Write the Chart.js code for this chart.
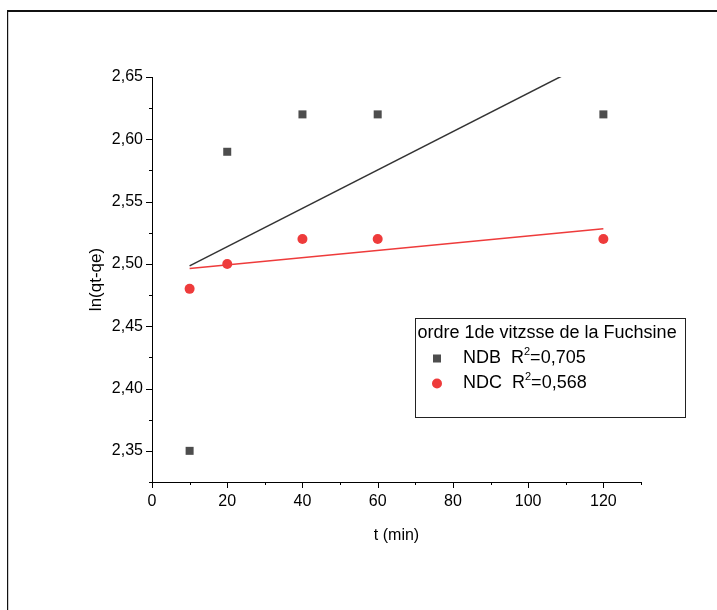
<!DOCTYPE html>
<html>
<head>
<meta charset="utf-8">
<script src="https://cdn.jsdelivr.net/npm/chart.js@4.4.1/dist/chart.umd.min.js"></script>
<style>
  html, body { margin: 0; padding: 0; background: #fff; }
  canvas { display: block; }
</style>
</head>
<body>
<canvas id="chart" width="717" height="610"></canvas>
<script>
// Kinetic data: contact time (min) and ln(qt-qe) for each adsorbent
const times = [10, 20, 40, 60, 120];
const ndbValues = [2.35, 2.59, 2.62, 2.62, 2.62];
const ndcValues = [2.48, 2.50, 2.52, 2.52, 2.52];
const seriesNames = ['NDB', 'NDC'];
const r2Values = ['0,705', '0,568'];
const legendTitle = 'ordre 1de vitzsse de la Fuchsine';
const xTitle = 't (min)';
const yTitle = 'ln(qt-qe)';
const xLimits = [0, 130];
const yLimits = [2.325, 2.65];

const FONT = "'Liberation Sans', Arial, sans-serif";
const COLOR_NDB = '#4d4d4d';
const COLOR_NDC = '#ee3b3b';

// Least-squares straight line through a series
function linearFit(xs, ys) {
  const n = xs.length;
  const mx = xs.reduce((a, b) => a + b, 0) / n;
  const my = ys.reduce((a, b) => a + b, 0) / n;
  let sxy = 0, sxx = 0;
  for (let i = 0; i < n; i++) {
    sxy += (xs[i] - mx) * (ys[i] - my);
    sxx += (xs[i] - mx) * (xs[i] - mx);
  }
  const slope = sxy / sxx;
  const icpt = my - slope * mx;
  const x0 = xs[0], x1 = xs[n - 1];
  return [{ x: x0, y: icpt + slope * x0 }, { x: x1, y: icpt + slope * x1 }];
}

const toPoints = (xs, ys) => xs.map((x, i) => ({ x: x, y: ys[i] }));
const commaNum = (v, d) => v.toFixed(d).replace('.', ',');

// Page frame
const framePlugin = {
  id: 'frame',
  beforeDraw(chart) {
    const ctx = chart.ctx;
    ctx.save();
    ctx.fillStyle = '#fff';
    ctx.fillRect(0, 0, chart.width, chart.height);
    ctx.fillStyle = '#111';
    ctx.fillRect(7, 10, chart.width - 7, 2);
    ctx.fillRect(7, 10, 1.2, chart.height - 10);
    ctx.restore();
  }
};

// Outward major/minor tick marks on both axes
const tickPlugin = {
  id: 'tickMarks',
  afterDraw(chart) {
    const ctx = chart.ctx;
    const area = chart.chartArea;
    const xs = chart.scales.x, ys = chart.scales.y;
    ctx.save();
    ctx.strokeStyle = '#000';
    ctx.lineWidth = 1;
    ctx.beginPath();
    xs.ticks.forEach(t => {
      const px = Math.round(xs.getPixelForValue(t.value)) + 0.5;
      const len = (Math.abs(t.value % 20) < 1e-9) ? 6 : 3;
      ctx.moveTo(px, area.bottom);
      ctx.lineTo(px, area.bottom + len);
    });
    ys.ticks.forEach(t => {
      const py = Math.round(ys.getPixelForValue(t.value)) + 0.5;
      const major = Math.abs(Math.round(t.value / 0.05) * 0.05 - t.value) < 1e-6;
      const len = major ? 6 : 3;
      ctx.moveTo(area.left, py);
      ctx.lineTo(area.left - len, py);
    });
    ctx.stroke();
    ctx.restore();
  }
};

// Boxed legend with a title and superscripted R²
const legendPlugin = {
  id: 'boxLegend',
  afterDraw(chart) {
    const ctx = chart.ctx;
    const box = { x: 415.5, y: 318.5, w: 270, h: 99 };
    ctx.save();
    ctx.fillStyle = '#fff';
    ctx.fillRect(box.x, box.y, box.w, box.h);
    ctx.strokeStyle = '#222';
    ctx.lineWidth = 1;
    ctx.strokeRect(box.x, box.y, box.w, box.h);

    ctx.fillStyle = '#000';
    ctx.textBaseline = 'middle';
    ctx.font = '18px ' + FONT;
    ctx.fillText(legendTitle, box.x + 2, box.y + 15);

    const colors = [COLOR_NDB, COLOR_NDC];
    const rows = [box.y + 40, box.y + 65];
    rows.forEach((cy, i) => {
      ctx.fillStyle = colors[i];
      if (i === 0) {
        ctx.fillRect(437 - 4, cy - 4, 8, 8);
      } else {
        ctx.beginPath();
        ctx.arc(437, cy, 5, 0, Math.PI * 2);
        ctx.fill();
      }
      ctx.fillStyle = '#000';
      ctx.font = '18px ' + FONT;
      let tx = 463;
      const head = seriesNames[i] + '  R';
      ctx.fillText(head, tx, cy);
      tx += ctx.measureText(head).width;
      ctx.font = '11px ' + FONT;
      ctx.fillText('2', tx, cy - 7);
      tx += ctx.measureText('2').width;
      ctx.font = '18px ' + FONT;
      ctx.fillText('=' + r2Values[i], tx, cy);
    });
    ctx.restore();
  }
};

new Chart(document.getElementById('chart'), {
  type: 'scatter',
  data: {
    datasets: [
      {
        label: seriesNames[0],
        data: toPoints(times, ndbValues),
        pointStyle: 'rect',
        pointRadius: 5.66,
        pointHoverRadius: 5.66,
        backgroundColor: COLOR_NDB,
        borderWidth: 0,
        order: 0
      },
      {
        label: seriesNames[1],
        data: toPoints(times, ndcValues),
        pointStyle: 'circle',
        pointRadius: 5,
        pointHoverRadius: 5,
        backgroundColor: COLOR_NDC,
        borderWidth: 0,
        order: 0
      },
      {
        label: seriesNames[0] + ' fit',
        data: linearFit(times, ndbValues),
        showLine: true,
        pointRadius: 0,
        borderColor: '#333',
        borderWidth: 1.5,
        order: 1
      },
      {
        label: seriesNames[1] + ' fit',
        data: linearFit(times, ndcValues),
        showLine: true,
        pointRadius: 0,
        borderColor: COLOR_NDC,
        borderWidth: 1.5,
        order: 1
      }
    ]
  },
  options: {
    responsive: false,
    animation: false,
    events: [],
    layout: { padding: { left: 84, right: 76, top: 77, bottom: 65 } },
    plugins: { legend: { display: false }, tooltip: { enabled: false } },
    scales: {
      x: {
        type: 'linear',
        min: xLimits[0],
        max: xLimits[1],
        grid: { display: false, drawTicks: false },
        border: { display: true, color: '#000', width: 1 },
        ticks: {
          stepSize: 10,
          autoSkip: false,
          maxRotation: 0,
          padding: 10,
          color: '#000',
          font: { family: FONT, size: 16 },
          callback: v => (Math.abs(v % 20) < 1e-9 ? String(v) : '')
        },
        title: { display: true, text: xTitle, color: '#000', font: { family: FONT, size: 16 }, padding: 0 },
        afterFit: s => { s.height = 63; }
      },
      y: {
        min: yLimits[0],
        max: yLimits[1],
        grid: { display: false, drawTicks: false },
        border: { display: true, color: '#000', width: 1 },
        ticks: {
          stepSize: 0.025,
          autoSkip: false,
          padding: 9,
          color: '#000',
          font: { family: FONT, size: 16 },
          callback: v => {
            const major = Math.abs(Math.round(v / 0.05) * 0.05 - v) < 1e-6;
            return major ? commaNum(v, 2) : '';
          }
        },
        title: { display: true, text: yTitle, color: '#000', font: { family: FONT, size: 17 }, padding: { top: 2, bottom: 0 } },
        afterFit: s => { s.width = 68; }
      }
    }
  },
  plugins: [framePlugin, tickPlugin, legendPlugin]
});
</script>
</body>
</html>
